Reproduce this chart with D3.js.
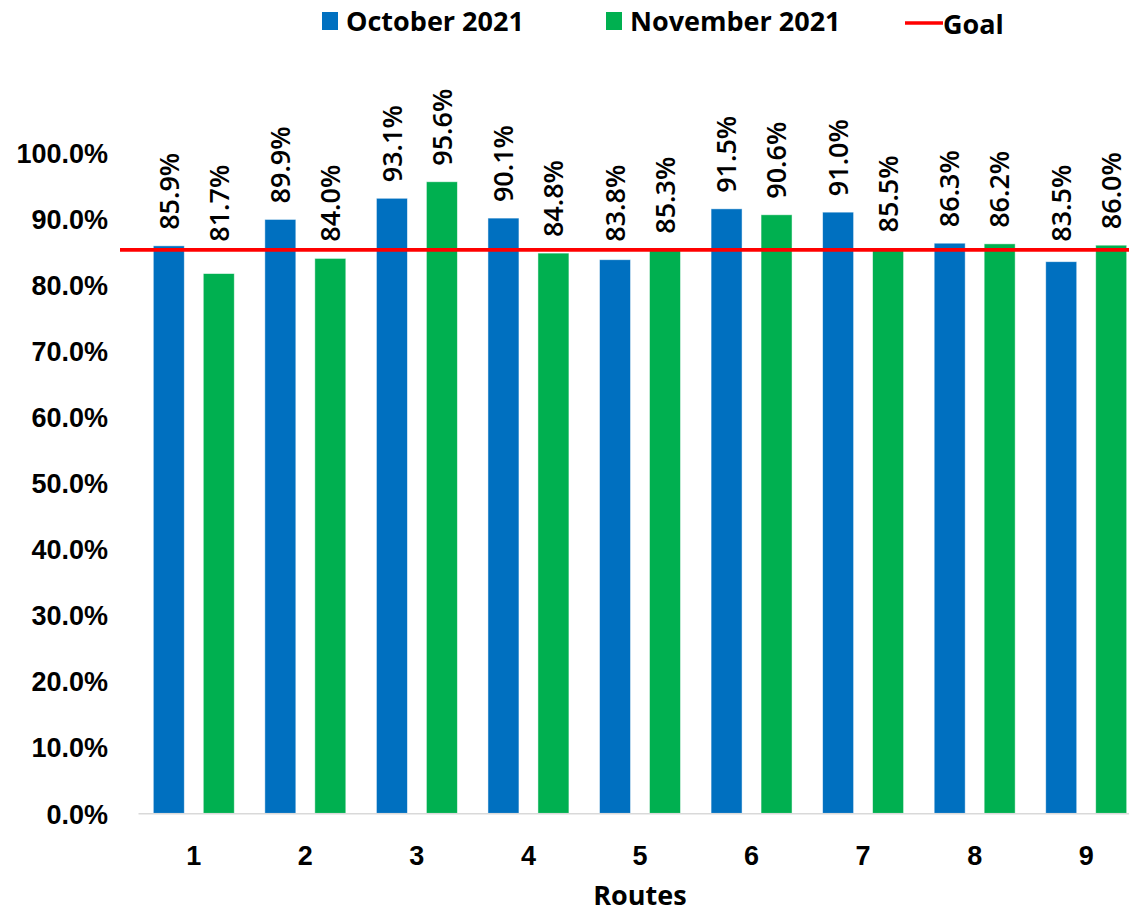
<!DOCTYPE html>
<html>
<head>
<meta charset="utf-8">
<script src="https://cdn.jsdelivr.net/npm/d3@7"></script>
<style>
  body { margin: 0; background: #fff; }
  svg { display: block; font-family: "Open Sans", Lato, sans-serif; }
</style>
</head>
<body>
<svg class="canvas" width="1129" height="913"></svg>
<script>
// values
var routes = ["1", "2", "3", "4", "5", "6", "7", "8", "9"]
var october = [0.859, 0.899, 0.931, 0.901, 0.838, 0.915, 0.910, 0.863, 0.835]
var november = [0.817, 0.840, 0.956, 0.848, 0.853, 0.906, 0.855, 0.862, 0.860]
var goal = 0.853
var yTicks = [0, 0.1, 0.2, 0.3, 0.4, 0.5, 0.6, 0.7, 0.8, 0.9, 1.0]
var seriesNames = ["October 2021", "November 2021"]
var seriesColors = ["#0070C0", "#00B050"]

var svg = d3.select('.canvas')

var x = d3.scaleBand()
    .domain(routes)
    .range([138, 1142])
    .padding(0)

var x1 = d3.scaleBand()
    .domain([0, 1])
    .range([0, x.bandwidth()])
    .paddingInner(0.38)
    .paddingOuter(0.306)

var y = d3.scaleLinear()
    .domain([0, 1])
    .range([813.3, 152.7])

var pct = d3.format(".1%")

// y axis labels, no line
var yAxis = svg.append("g")
    .attr("transform", "translate(108,0)")
    .call(d3.axisLeft(y).tickValues(yTicks).tickFormat(pct).tickSize(0).tickPadding(0))
yAxis.select(".domain").remove()
yAxis.selectAll("text")
    .style("font-size", "27px")
    .style("font-weight", "bold")
    .style("fill", "#000")
    .attr("dy", "0.36em")

// grouped bars
var rows = routes.map(function(r, i) {
    return { route: r, values: [october[i], november[i]] }
})

var groups = svg.selectAll(".group")
    .data(rows)
    .enter()
    .append("g")
        .attr("class", "group")
        .attr("transform", function(d) { return "translate(" + x(d.route) + ",0)" })

groups.selectAll("rect")
    .data(function(d) { return d.values })
    .enter()
    .append("rect")
        .attr("x", function(d, i) { return x1(i) })
        .attr("width", x1.bandwidth())
        .attr("y", function(d) { return y(d) })
        .attr("height", function(d) { return y(0) - y(d) })
        .style("fill", function(d, i) { return seriesColors[i] })
        .style("stroke", "#ffffff")
        .style("stroke-opacity", 0.6)
        .style("stroke-width", 0.8)

// labels sit above the bar, but are kept clear of the goal line
groups.selectAll(".val")
    .data(function(d) { return d.values })
    .enter()
    .append("text")
        .attr("class", "val")
        .attr("transform", function(d, i) {
            var ly = Math.min(y(d) - 16, y(goal) - 8)
            return "translate(" + (x1(i) + x1.bandwidth() / 2) + "," + ly + ") rotate(-90)"
        })
        .attr("dy", "0.36em")
        .style("font-size", "27px")
        .style("font-weight", 600)
        .style("fill", "#000")
        .text(function(d) { return pct(d) })

// x axis
var xAxis = svg.append("g")
    .attr("transform", "translate(0," + y(0) + ")")
    .call(d3.axisBottom(x).tickSize(0).tickPadding(0))
xAxis.select(".domain")
    .style("stroke", "#d9d9d9")
    .style("stroke-width", 1.5)
xAxis.selectAll("text")
    .attr("y", 42)
    .attr("dy", "0.36em")
    .style("font-size", "27px")
    .style("font-weight", "bold")
    .style("fill", "#000")

svg.append("text")
    .attr("x", 640)
    .attr("y", 905)
    .attr("text-anchor", "middle")
    .style("font-size", "27px")
    .style("font-weight", "bold")
    .text("Routes")

// goal line
svg.append("line")
    .attr("x1", 120)
    .attr("x2", 1129)
    .attr("y1", y(goal))
    .attr("y2", y(goal))
    .style("stroke", "#FF0000")
    .style("stroke-width", 3.7)

// legend
var legend = svg.append("g").attr("class", "legend")
var legendX = [322, 606]
seriesNames.forEach(function(name, i) {
    legend.append("rect")
        .attr("x", legendX[i])
        .attr("y", 12)
        .attr("width", 16)
        .attr("height", 18)
        .style("fill", seriesColors[i])
    legend.append("text")
        .attr("x", legendX[i] + 24)
        .attr("y", 21)
        .attr("dy", "0.36em")
        .style("font-size", "27px")
        .style("font-weight", "bold")
        .text(name)
})
legend.append("line")
    .attr("x1", 905)
    .attr("x2", 943)
    .attr("y1", 23)
    .attr("y2", 23)
    .style("stroke", "#FF0000")
    .style("stroke-width", 3.7)
legend.append("text")
    .attr("x", 943)
    .attr("y", 24)
    .attr("dy", "0.36em")
    .style("font-size", "27px")
    .style("font-weight", "bold")
    .text("Goal")
</script>
</body>
</html>
